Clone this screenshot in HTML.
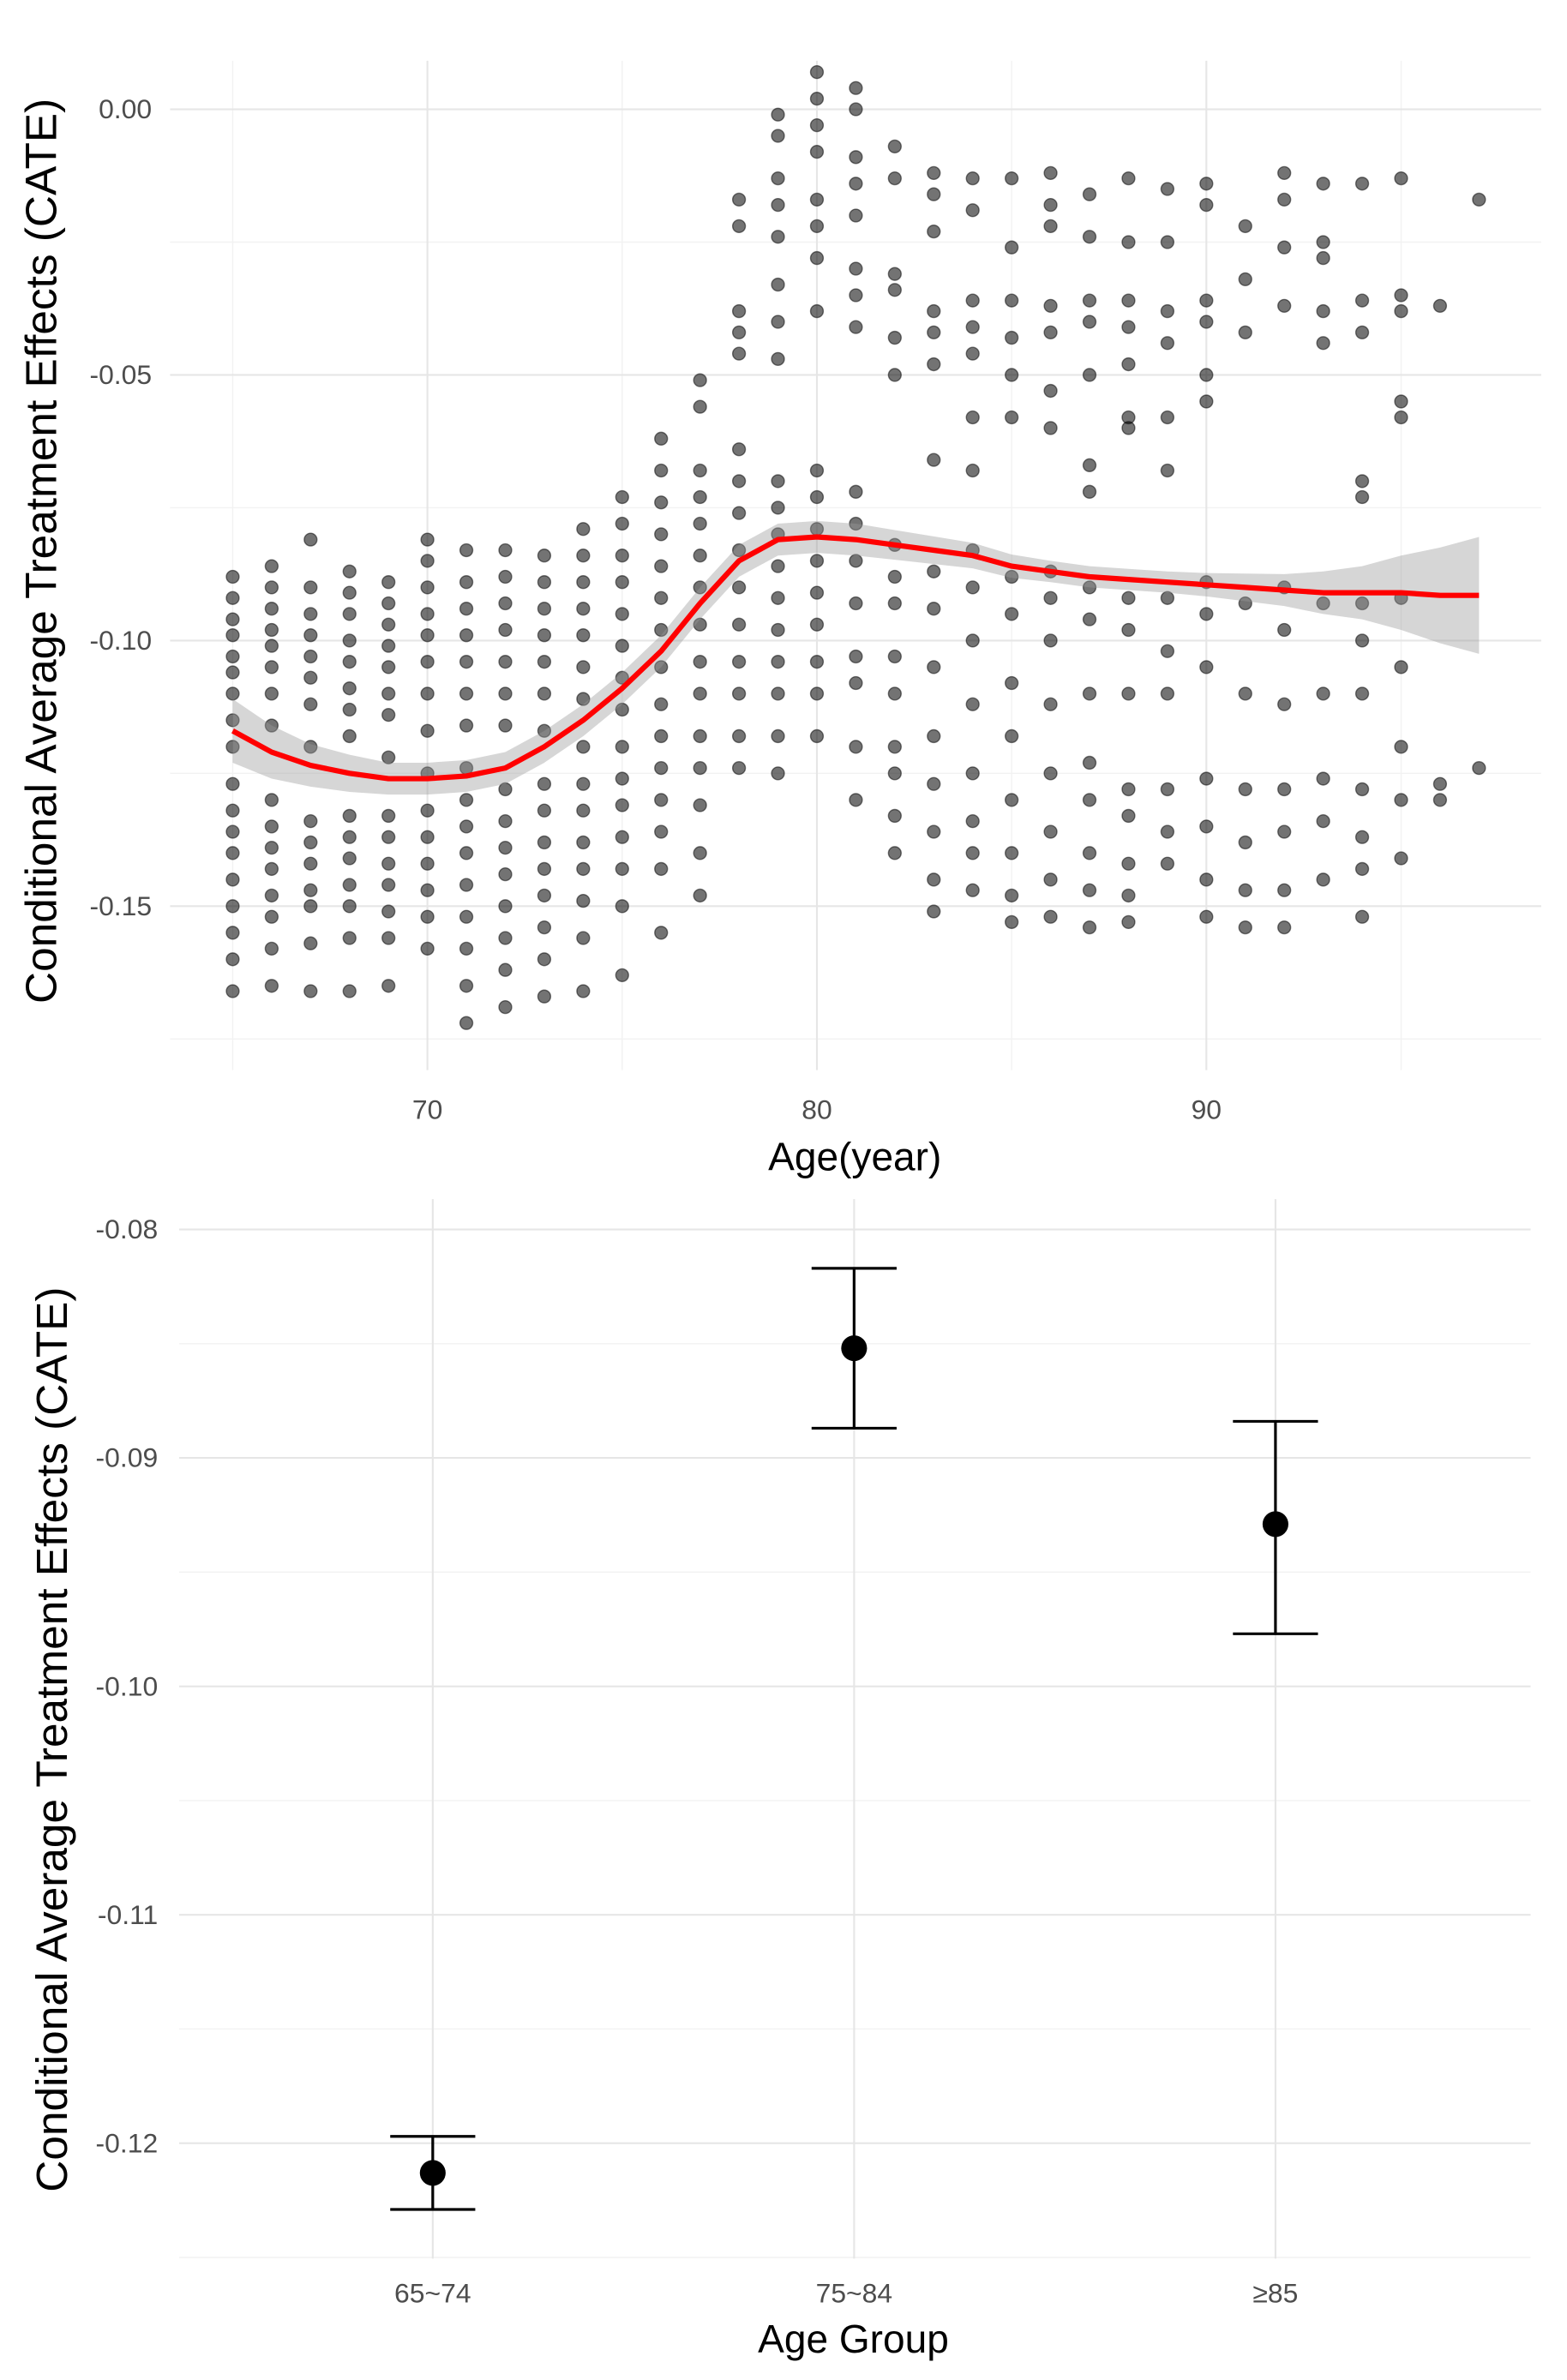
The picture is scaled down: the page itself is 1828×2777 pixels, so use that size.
<!DOCTYPE html>
<html><head><meta charset="utf-8"><style>
html,body{margin:0;padding:0;background:#fff}
svg{display:block}
text{font-family:"Liberation Sans",sans-serif}
</style></head><body>
<svg id="chart" width="1828" height="2777" viewBox="0 0 1032 1568" preserveAspectRatio="none" xmlns="http://www.w3.org/2000/svg">
<g id="topPanel"></g>
<g id="botPanel"></g>
</svg>
<script>
const ages=[65,66,67,68,69,70,71,72,73,74,75,76,77,78,79,80,81,82,83,84,85,86,87,88,89,90,91,92,93,94,95,96,97];
const pointsByAge=[
[-0.088,-0.092,-0.096,-0.099,-0.103,-0.106,-0.110,-0.115,-0.120,-0.127,-0.132,-0.136,-0.140,-0.145,-0.150,-0.155,-0.160,-0.166],
[-0.086,-0.090,-0.094,-0.098,-0.101,-0.105,-0.110,-0.116,-0.130,-0.135,-0.139,-0.143,-0.148,-0.152,-0.158,-0.165],
[-0.081,-0.090,-0.095,-0.099,-0.103,-0.107,-0.112,-0.120,-0.134,-0.138,-0.142,-0.147,-0.150,-0.157,-0.166],
[-0.087,-0.091,-0.095,-0.100,-0.104,-0.109,-0.113,-0.118,-0.133,-0.137,-0.141,-0.146,-0.150,-0.156,-0.166],
[-0.089,-0.093,-0.097,-0.101,-0.105,-0.110,-0.114,-0.122,-0.133,-0.137,-0.142,-0.146,-0.151,-0.156,-0.165],
[-0.081,-0.085,-0.090,-0.095,-0.099,-0.104,-0.110,-0.117,-0.125,-0.132,-0.137,-0.142,-0.147,-0.152,-0.158],
[-0.083,-0.089,-0.094,-0.099,-0.104,-0.110,-0.116,-0.124,-0.130,-0.135,-0.140,-0.146,-0.152,-0.158,-0.165,-0.172],
[-0.083,-0.088,-0.093,-0.098,-0.104,-0.110,-0.116,-0.128,-0.134,-0.139,-0.144,-0.150,-0.156,-0.162,-0.169],
[-0.084,-0.089,-0.094,-0.099,-0.104,-0.110,-0.117,-0.127,-0.132,-0.138,-0.143,-0.148,-0.154,-0.160,-0.167],
[-0.079,-0.084,-0.089,-0.094,-0.099,-0.105,-0.111,-0.120,-0.127,-0.132,-0.138,-0.143,-0.149,-0.156,-0.166],
[-0.073,-0.078,-0.084,-0.089,-0.095,-0.101,-0.107,-0.113,-0.120,-0.126,-0.131,-0.137,-0.143,-0.150,-0.163],
[-0.062,-0.068,-0.074,-0.080,-0.086,-0.092,-0.098,-0.105,-0.112,-0.118,-0.124,-0.130,-0.136,-0.143,-0.155],
[-0.051,-0.056,-0.068,-0.073,-0.078,-0.084,-0.090,-0.097,-0.104,-0.110,-0.118,-0.124,-0.131,-0.140,-0.148],
[-0.017,-0.022,-0.038,-0.042,-0.046,-0.064,-0.070,-0.076,-0.083,-0.090,-0.097,-0.104,-0.110,-0.118,-0.124],
[-0.001,-0.005,-0.013,-0.018,-0.024,-0.033,-0.040,-0.047,-0.070,-0.075,-0.080,-0.086,-0.092,-0.098,-0.104,-0.110,-0.118,-0.125],
[0.007,0.002,-0.003,-0.008,-0.017,-0.022,-0.028,-0.038,-0.068,-0.073,-0.079,-0.085,-0.091,-0.097,-0.104,-0.110,-0.118],
[0.004,0.000,-0.009,-0.014,-0.020,-0.030,-0.035,-0.041,-0.072,-0.078,-0.085,-0.093,-0.103,-0.108,-0.120,-0.130],
[-0.007,-0.013,-0.031,-0.034,-0.043,-0.050,-0.082,-0.088,-0.093,-0.103,-0.110,-0.120,-0.125,-0.133,-0.140],
[-0.012,-0.016,-0.023,-0.038,-0.042,-0.048,-0.066,-0.087,-0.094,-0.105,-0.118,-0.127,-0.136,-0.145,-0.151],
[-0.013,-0.019,-0.036,-0.041,-0.046,-0.058,-0.068,-0.083,-0.090,-0.100,-0.112,-0.125,-0.134,-0.140,-0.147],
[-0.013,-0.026,-0.036,-0.043,-0.050,-0.058,-0.088,-0.095,-0.108,-0.118,-0.130,-0.140,-0.148,-0.153],
[-0.012,-0.018,-0.022,-0.037,-0.042,-0.053,-0.060,-0.087,-0.092,-0.100,-0.112,-0.125,-0.136,-0.145,-0.152],
[-0.016,-0.024,-0.036,-0.040,-0.050,-0.067,-0.072,-0.090,-0.096,-0.110,-0.123,-0.130,-0.140,-0.147,-0.154],
[-0.013,-0.025,-0.036,-0.041,-0.048,-0.058,-0.060,-0.092,-0.098,-0.110,-0.128,-0.133,-0.142,-0.148,-0.153],
[-0.015,-0.025,-0.038,-0.044,-0.058,-0.068,-0.092,-0.102,-0.110,-0.128,-0.136,-0.142],
[-0.014,-0.018,-0.036,-0.040,-0.050,-0.055,-0.089,-0.095,-0.105,-0.126,-0.135,-0.145,-0.152],
[-0.022,-0.032,-0.042,-0.093,-0.110,-0.128,-0.138,-0.147,-0.154],
[-0.012,-0.017,-0.026,-0.037,-0.090,-0.098,-0.112,-0.128,-0.136,-0.147,-0.154],
[-0.014,-0.025,-0.028,-0.038,-0.044,-0.093,-0.110,-0.126,-0.134,-0.145],
[-0.014,-0.036,-0.042,-0.070,-0.073,-0.093,-0.100,-0.110,-0.128,-0.137,-0.143,-0.152],
[-0.013,-0.035,-0.038,-0.055,-0.058,-0.092,-0.105,-0.120,-0.130,-0.141],
[-0.037,-0.127,-0.130],
[-0.017,-0.124]
];
const smoothFit=[-0.117,-0.121,-0.1235,-0.125,-0.126,-0.126,-0.1255,-0.124,-0.120,-0.115,-0.109,-0.102,-0.093,-0.085,-0.081,-0.0805,-0.081,-0.082,-0.083,-0.084,-0.086,-0.087,-0.088,-0.0885,-0.089,-0.0895,-0.090,-0.0905,-0.091,-0.091,-0.091,-0.0915,-0.0915];
const smoothSE=[0.006,0.005,0.004,0.0035,0.003,0.003,0.003,0.003,0.003,0.003,0.003,0.003,0.003,0.003,0.003,0.003,0.003,0.0028,0.0026,0.0024,0.0022,0.002,0.002,0.002,0.002,0.0022,0.0026,0.003,0.004,0.005,0.007,0.009,0.011];
const topXTicks=[70,80,90];
const topXMinor=[65,75,85,95];
const topYTicks=[0,-0.05,-0.10,-0.15];
const topYTickLabels=["0.00","-0.05","-0.10","-0.15"];
const topYMinor=[-0.025,-0.075,-0.125,-0.175];
const groups=["65~74","75~84","≥85"];
const groupMeans=[-0.1213,-0.0852,-0.0929];
const groupLower=[-0.1229,-0.0887,-0.0977];
const groupUpper=[-0.1197,-0.0817,-0.0884];
const botYTicks=[-0.08,-0.09,-0.10,-0.11,-0.12];
const botYTickLabels=["-0.08","-0.09","-0.10","-0.11","-0.12"];
const botYMinor=[-0.085,-0.095,-0.105,-0.115,-0.125];

const NS="http://www.w3.org/2000/svg";
function mk(p,tag,at){const e=document.createElementNS(NS,tag);for(const k in at)e.setAttribute(k,at[k]);p.appendChild(e);return e;}
const topG=document.getElementById('topPanel'),botG=document.getElementById('botPanel');
const tx=a=>538+(a-80)*25.65;
const ty=v=>72-v*3500;
const TL=112,TR=1015,TT=40,TB=705;
for(const m of topXMinor){const l=mk(topG,'line',{x1:tx(m),x2:tx(m),y1:TT,y2:TB,stroke:'#f2f2f2','stroke-width':0.8});}
for(const m of topYMinor){const l=mk(topG,'line',{x1:TL,x2:TR,y1:ty(m),y2:ty(m),stroke:'#f2f2f2','stroke-width':0.8});}
topXTicks.forEach(t=>{const l=mk(topG,'line',{x1:tx(t),x2:tx(t),y1:TT,y2:TB,stroke:'#e6e6e6','stroke-width':1.2});
const s=mk(topG,'text',{x:tx(t),y:737,'text-anchor':'middle','font-size':18,fill:'#4d4d4d'});s.textContent=t;});
topYTicks.forEach((t,i)=>{const l=mk(topG,'line',{x1:TL,x2:TR,y1:ty(t),y2:ty(t),stroke:'#e6e6e6','stroke-width':1.2});
const s=mk(topG,'text',{x:100,y:ty(t)+6,'text-anchor':'end','font-size':18,fill:'#4d4d4d'});s.textContent=topYTickLabels[i];});
ages.forEach((a,i)=>{pointsByAge[i].forEach(v=>{const c=mk(topG,'circle',{cx:tx(a),cy:ty(v),r:4.2,fill:'rgba(0,0,0,0.55)',stroke:'rgba(0,0,0,0.5)','stroke-width':0.8});});});
let up=ages.map((a,i)=>tx(a)+','+ty(smoothFit[i]+smoothSE[i]));
let lo=ages.map((a,i)=>tx(a)+','+ty(smoothFit[i]-smoothSE[i])).reverse();
const rb=mk(topG,'polygon',{points:up.concat(lo).join(' '),fill:'rgba(153,153,153,0.4)'});


const ln=mk(topG,'polyline',{points:ages.map((a,i)=>tx(a)+','+ty(smoothFit[i])).join(' '),fill:'none',stroke:'#ff0000','stroke-width':3.5,'stroke-linejoin':'round'});


let t1=mk(topG,'text',{x:563,y:771,'text-anchor':'middle','font-size':26,fill:'#000'});t1.textContent='Age(year)';


let t2=mk(topG,'text',{x:0,y:0,'text-anchor':'middle','font-size':29,fill:'#000',transform:'translate(37,363) rotate(-90)'});t2.textContent='Conditional Average Treatment Effects (CATE)';


const bx=i=>285+i*277.5;
const by=v=>810-(v+0.08)*15050;
const BL=118,BR=1008,BT=790,BB=1488;
for(const m of botYMinor){const l=mk(botG,'line',{x1:BL,x2:BR,y1:by(m),y2:by(m),stroke:'#f2f2f2','stroke-width':0.8});}
botYTicks.forEach((t,i)=>{const l=mk(botG,'line',{x1:BL,x2:BR,y1:by(t),y2:by(t),stroke:'#e6e6e6','stroke-width':1.2});
const s=mk(botG,'text',{x:104,y:by(t)+6,'text-anchor':'end','font-size':18,fill:'#4d4d4d'});s.textContent=botYTickLabels[i];});
groups.forEach((g,i)=>{const l=mk(botG,'line',{x1:bx(i),x2:bx(i),y1:BT,y2:BB,stroke:'#e6e6e6','stroke-width':1.2});
const s=mk(botG,'text',{x:bx(i),y:1517,'text-anchor':'middle','font-size':18,fill:'#4d4d4d'});s.textContent=g;
const e=mk(botG,'path',{d:`M${bx(i)-28},${by(groupUpper[i])}H${bx(i)+28}M${bx(i)},${by(groupUpper[i])}V${by(groupLower[i])}M${bx(i)-28},${by(groupLower[i])}H${bx(i)+28}`,stroke:'#000','stroke-width':1.8,fill:'none'});
const c=mk(botG,'circle',{cx:bx(i),cy:by(groupMeans[i]),r:8.5,fill:'#000'});});
let t3=mk(botG,'text',{x:562,y:1550,'text-anchor':'middle','font-size':26,fill:'#000'});t3.textContent='Age Group';


let t4=mk(botG,'text',{x:0,y:0,'text-anchor':'middle','font-size':29,fill:'#000',transform:'translate(44,1146) rotate(-90)'});t4.textContent='Conditional Average Treatment Effects (CATE)';


</script>
</body></html>
